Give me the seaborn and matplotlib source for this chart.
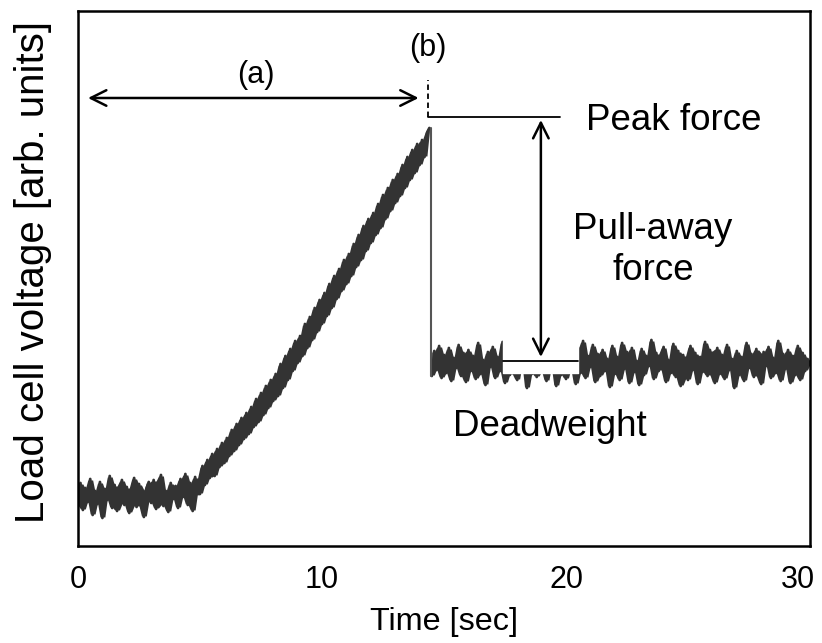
import numpy as np
import pandas as pd
import seaborn as sns
import matplotlib.pyplot as plt
import matplotlib.transforms as mtransforms

# Sampling grid: 0.1 s steps from 0 to 30 s
time_s = np.round(np.arange(301) * 0.1, 1)

# Load cell trace (arbitrary units, one row = 1 s)
voltage = [
    40, 63, 36, 58, 44, 67, 31, 55, 42, 64,
    28, 57, 46, 70, 38, 61, 35, 52, 66, 41,
    59, 33, 54, 68, 39, 62, 45, 29, 57, 64,
    43, 66, 37, 58, 71, 40, 55, 34, 63, 47,
    60, 38, 67, 49, 72, 41, 63, 35, 69, 52,
    52, 80, 61, 86, 68, 92, 70, 97, 79, 103,
    83, 108, 90, 116, 95, 122, 101, 128, 107, 133,
    112, 139, 119, 147, 124, 153, 131, 160, 138, 166,
    145, 172, 150, 182, 158, 190, 166, 197, 175, 205,
    183, 210, 190, 222, 198, 229, 206, 238, 214, 246,
    222, 253, 230, 262, 238, 270, 247, 277, 255, 286,
    262, 292, 270, 302, 279, 311, 286, 320, 295, 327,
    303, 333, 311, 342, 318, 351, 327, 358, 335, 366,
    343, 372, 350, 381, 358, 389, 366, 396, 373, 402,
    381, 406, 389, 413, 418, 170, 195, 176, 200, 168,
    191, 173, 198, 165, 188, 178, 201, 170, 193, 164,
    196, 175, 190, 167, 203, 172, 186, 161, 194, 179,
    199, 168, 189, 175, 204, 163, 192, 171, 197, 176,
    166, 193, 180, 200, 158, 189, 172, 195, 169, 186,
    174, 202, 165, 191, 178, 197, 160, 188, 171, 199,
    167, 194, 176, 186, 162, 198, 173, 205, 168, 190,
    179, 201, 164, 192, 170, 196, 175, 187, 159, 200,
    172, 189, 166, 203, 177, 194, 163, 198, 174, 185,
    161, 197, 171, 190, 180, 206, 167, 193, 175, 188,
    199, 164, 186, 173, 202, 169, 195, 160, 191, 178,
    166, 200, 176, 193, 162, 189, 174, 204, 170, 196,
    180, 163, 198, 172, 191, 167, 201, 176, 187, 158,
    195, 171, 189, 165, 203, 178, 192, 169, 197, 174,
    162, 194, 180, 199, 168, 188, 173, 205, 165, 192,
    177, 196, 163, 190, 171, 200, 166, 193, 175, 187,
    181,
]

# Annotation levels (same arbitrary units)
peak_level = 429
deadweight_level = 185
deadweight_span = [17.4, 20.5]
peak_time = 14.33
release_time = 14.4

df = pd.DataFrame({'time': time_s, 'voltage': voltage})
before = df[df['time'] <= release_time].copy()
after = df[df['time'] > release_time].copy()

sns.set_style('white')
plt.rcParams['font.family'] = ['Liberation Sans', 'DejaVu Sans']
plt.rcParams['text.color'] = 'black'
plt.rcParams['axes.labelcolor'] = 'black'
plt.rcParams['xtick.color'] = 'black'

fig = plt.figure(figsize=(8.22, 6.43), dpi=100)
ax = fig.add_axes([0.0949, 0.1509, 0.8905, 0.832])

trace = '#333333'
for seg in (before, after):
    # dense noise band: fill between local minima and maxima of the samples
    lo = seg['voltage'].rolling(3, center=True, min_periods=1).min()
    hi = seg['voltage'].rolling(3, center=True, min_periods=1).max()
    ax.fill_between(seg['time'], lo + 1, hi - 1, color=trace, lw=0, zorder=2)
    sns.lineplot(data=seg, x='time', y='voltage', color=trace, linewidth=2.0,
                 estimator=None, ax=ax, zorder=2)
# release: thin vertical drop
ax.plot([14.45, 14.45], [before['voltage'].iloc[-1], after['voltage'].iloc[0]],
        color='#555555', lw=1.5, zorder=2)

# Deadweight window: blank out the upper part of the trace and draw the level line
ax.fill_between(deadweight_span, 173, 215, color='white', zorder=3)
ax.plot(deadweight_span, [deadweight_level] * 2, color='black', lw=1.3, zorder=4)

# Peak level line and (b) marker
ax.plot([peak_time, 19.75], [peak_level] * 2, color='black', lw=1.3, zorder=4)
ax.plot([peak_time, peak_time], [peak_level, 466], color='black', lw=1.3,
        linestyle=(0, (3, 2)), zorder=4)

# (a) double arrow
ax.annotate('', xy=(0.41, 448), xytext=(13.96, 448),
            arrowprops=dict(arrowstyle='<->', lw=1.8, color='black', mutation_scale=28,
                            shrinkA=0, shrinkB=0))
# Pull-away arrow
ax.annotate('', xy=(18.97, 426), xytext=(18.97, 189),
            arrowprops=dict(arrowstyle='<->', lw=1.8, color='black', mutation_scale=28,
                            shrinkA=0, shrinkB=0))

ax.text(7.27, 471, '(a)', ha='center', va='center', fontsize=22)
ax.text(14.33, 498, '(b)', ha='center', va='center', fontsize=22)
ax.text(20.82, 425, 'Peak force', ha='left', va='center', fontsize=26.5)
ax.text(23.57, 296, 'Pull-away\nforce', ha='center', va='center', fontsize=26.5,
        linespacing=1.25)
ax.text(19.35, 119, 'Deadweight', ha='center', va='center', fontsize=26.5)

ax.set_xlim(0, 30)
ax.set_ylim(0, 535)
ax.set_xticks([0, 10, 20, 30])
ax.set_yticks([])
ax.tick_params(axis='x', direction='in', length=5, width=1, color='#999999',
               labelsize=22, pad=14)
ax.set_xlabel('Time [sec]', fontsize=23.3, labelpad=8)
ax.set_ylabel('Load cell voltage [arb. units]', fontsize=29, labelpad=19)
ax.yaxis.label.set_y(0.513)
for s in ax.spines.values():
    s.set_color('black')
    s.set_linewidth(1.8)

# last tick label sits inside the figure edge
last = ax.get_xticklabels()[-1]
last.set_horizontalalignment('right')
last.set_transform(last.get_transform() + mtransforms.ScaledTranslation(0.05, 0, fig.dpi_scale_trans))

plt.savefig('out.png', dpi=100)
